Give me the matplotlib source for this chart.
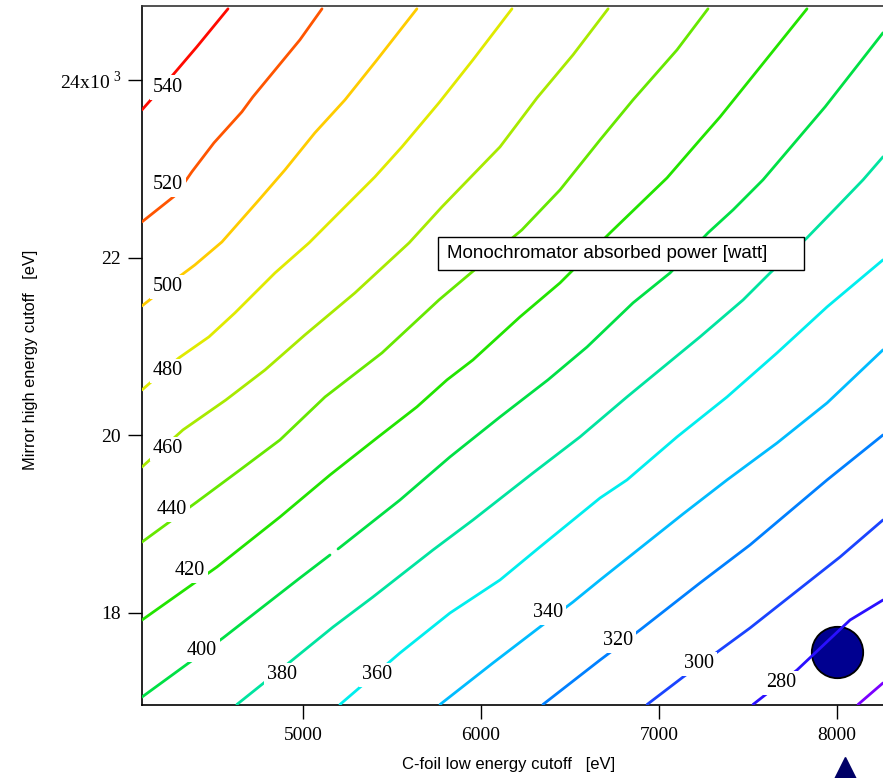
import numpy as np
import matplotlib.pyplot as plt
from matplotlib.patches import Rectangle

plt.rcParams['mathtext.fontset'] = 'custom'
plt.rcParams['mathtext.rm'] = 'Liberation Serif'

SERIF = ['Liberation Serif', 'DejaVu Serif']
SANS = ['Liberation Sans', 'DejaVu Sans']

# contour levels [watt] and the traced iso-power lines (x = C-foil cutoff, y = mirror cutoff, eV)
niveis = [540, 520, 500, 480, 460, 440, 420, 400, 380, 360, 340, 320, 300, 280, 260]
cores = ['#ff0a00', '#ff5500', '#ffcc00', '#e0ea00', '#a8ea00', '#66e800', '#22e400',
         '#00e045', '#00e4a0', '#00eeee', '#00bcff', '#0080ff', '#1a44ff', '#2a10ff', '#7a00ff']

x540 = [4096, 4270, 4404, 4579]
y540 = [23664, 24058, 24373, 24801]
x520 = [4096, 4287, 4376, 4500, 4657, 4719, 4983, 5107]
y520 = [22403, 22707, 22966, 23292, 23641, 23810, 24452, 24801]
x500 = [4096, 4303, 4393, 4545, 4753, 4899, 5067, 5236, 5416, 5640]
y500 = [21457, 21783, 21918, 22177, 22650, 22988, 23405, 23776, 24227, 24801]
x480 = [4096, 4303, 4472, 4618, 4843, 5034, 5219, 5404, 5556, 5764, 5955, 6174]
y480 = [20511, 20871, 21108, 21378, 21828, 22166, 22538, 22909, 23247, 23743, 24227, 24801]
x460 = [4096, 4326, 4567, 4787, 5011, 5292, 5596, 5781, 6107, 6315, 6517, 6714]
y460 = [19644, 20061, 20398, 20736, 21130, 21603, 22166, 22572, 23247, 23799, 24283, 24801]
x440 = [4096, 4404, 4646, 4871, 5124, 5444, 5764, 6230, 6444, 6669, 6854, 7101, 7275]
y440 = [18799, 19250, 19610, 19948, 20432, 20928, 21524, 22313, 22763, 23326, 23776, 24339, 24801]
x420 = [4096, 4517, 4871, 5152, 5416, 5640, 5809, 5955, 6219, 6444, 6725, 7045, 7230, 7343, 7831]
y420 = [17921, 18518, 19081, 19554, 19971, 20320, 20624, 20849, 21333, 21716, 22279, 22898, 23326, 23585, 24801]
x400 = [4096, 4551, 4983, 5152, np.nan, 5197, 5545, 5826, 6107, 6376, 6596, 6854, 7062,
        7275, 7416, 7584, 7933, 8258]
y400 = [17054, 17719, 18394, 18653, np.nan, 18721, 19272, 19757, 20207, 20624, 20995, 21491, 21828,
        22279, 22538, 22876, 23698, 24531]
x380 = [4629, 4927, 5169, 5393, 5730, 5955, 6292, 6556, 6820, 7230, 7472, 7624, 7831, 8000, 8146, 8258]
y380 = [16970, 17448, 17842, 18180, 18709, 19047, 19576, 19982, 20432, 21108, 21524, 21828, 22223, 22572, 22876, 23135]
x360 = [5208, 5545, 5826, 6107, 6331, 6669, 6820, 7101, 7382, 7663, 7944, 8258]
y360 = [16970, 17550, 18000, 18372, 18743, 19295, 19498, 19982, 20432, 20928, 21446, 21975]
x340 = [5770, 6067, 6331, 6517, 6669, 7135, 7382, 7663, 7944, 8258]
y340 = [16970, 17437, 17842, 18124, 18372, 19115, 19498, 19914, 20365, 20962]
x320 = [6348, 6669, 6893, 7230, 7511, 7944, 8258]
y320 = [16970, 17471, 17809, 18338, 18766, 19498, 20004]
x300 = [6933, 7135, 7511, 8017, 8258]
y300 = [16970, 17279, 17831, 18631, 19047]
x280 = [7528, 7775, 8073, 8258]
y280 = [16970, 17358, 17921, 18146]
x260 = [8118, 8258]
y260 = [16970, 17212]

linhas_x = [x540, x520, x500, x480, x460, x440, x420, x400, x380, x360, x340, x320, x300, x280, x260]
linhas_y = [y540, y520, y500, y480, y460, y440, y420, y400, y380, y360, y340, y320, y300, y280, y260]

# where each level number is written on its line
rotulo_x = [4242, 4242, 4242, 4242, 4242, 4264, 4365, 4433, 4882, 5416, 6376, 6770, 7225, 7685]
rotulo_y = [23912, 22819, 21671, 20725, 19847, 19160, 18473, 17583, 17302, 17302, 18000, 17685, 17426, 17212]

# working point and the marker under the axis
ponto_x, ponto_y = 8000, 17560
seta_x, seta_y = 8045, 16210

fig = plt.figure(figsize=(8.83, 7.78), dpi=100)
ax = fig.add_axes([0.1608, 0.0938, 0.8392, 0.8985])

ax.plot([ponto_x], [ponto_y], marker='o', markersize=37, color='#000090',
        markeredgecolor='black', markeredgewidth=1.3, zorder=2)
ax.plot([seta_x], [seta_y], marker='^', markersize=22, color='#000066',
        clip_on=False, zorder=2)

for xs, ys, c in zip(linhas_x, linhas_y, cores):
    ax.plot(xs, ys, color=c, linewidth=2.0, zorder=3, solid_capstyle='round')

for n, rx, ry in zip(niveis, rotulo_x, rotulo_y):
    ax.text(rx, ry, str(n), ha='center', va='center', fontsize=14.5, family=SERIF,
            zorder=4, bbox=dict(boxstyle='square,pad=0.14', fc='white', ec='none'))

# caption box
ax.add_patch(Rectangle((0.3995, 0.6223), 0.4939, 0.0472, transform=ax.transAxes,
                       facecolor='white', edgecolor='black', linewidth=1.0, zorder=5))
ax.text(0.4116, 0.6459, 'Monochromator absorbed power [watt]', transform=ax.transAxes,
        ha='left', va='center', fontsize=13.5, family=SANS, zorder=6)

ax.set_xlim(4096, 8258)
ax.set_ylim(16964, 24833)

ax.set_xticks([5000, 6000, 7000, 8000])
ax.set_xticklabels(['5000', '6000', '7000', '8000'])
ax.set_yticks([18000, 20000, 22000, 24000])
ax.set_yticklabels(['18', '20', '22', r'24x10$^{\ 3}$'])
for lab in ax.get_xticklabels() + ax.get_yticklabels():
    lab.set_family(SERIF)
    lab.set_fontsize(14)
ax.tick_params(axis='x', direction='out', length=10, width=1.0, pad=6)
ax.tick_params(axis='y', direction='out', length=10, width=1.0, pad=5)

ax.spines['right'].set_visible(False)
for s in ['left', 'bottom', 'top']:
    ax.spines[s].set_linewidth(1.2)
ax.spines['top'].set_color('#333333')

ax.set_xlabel('C-foil low energy cutoff   [eV]', family=SANS, fontsize=12)
ax.set_ylabel('Mirror high energy cutoff   [eV]', family=SANS, fontsize=11.8)
ax.xaxis.set_label_coords(0.495, -0.074)
ax.yaxis.set_label_coords(-0.140, 0.494)

fig.savefig('out.png', dpi=100)
